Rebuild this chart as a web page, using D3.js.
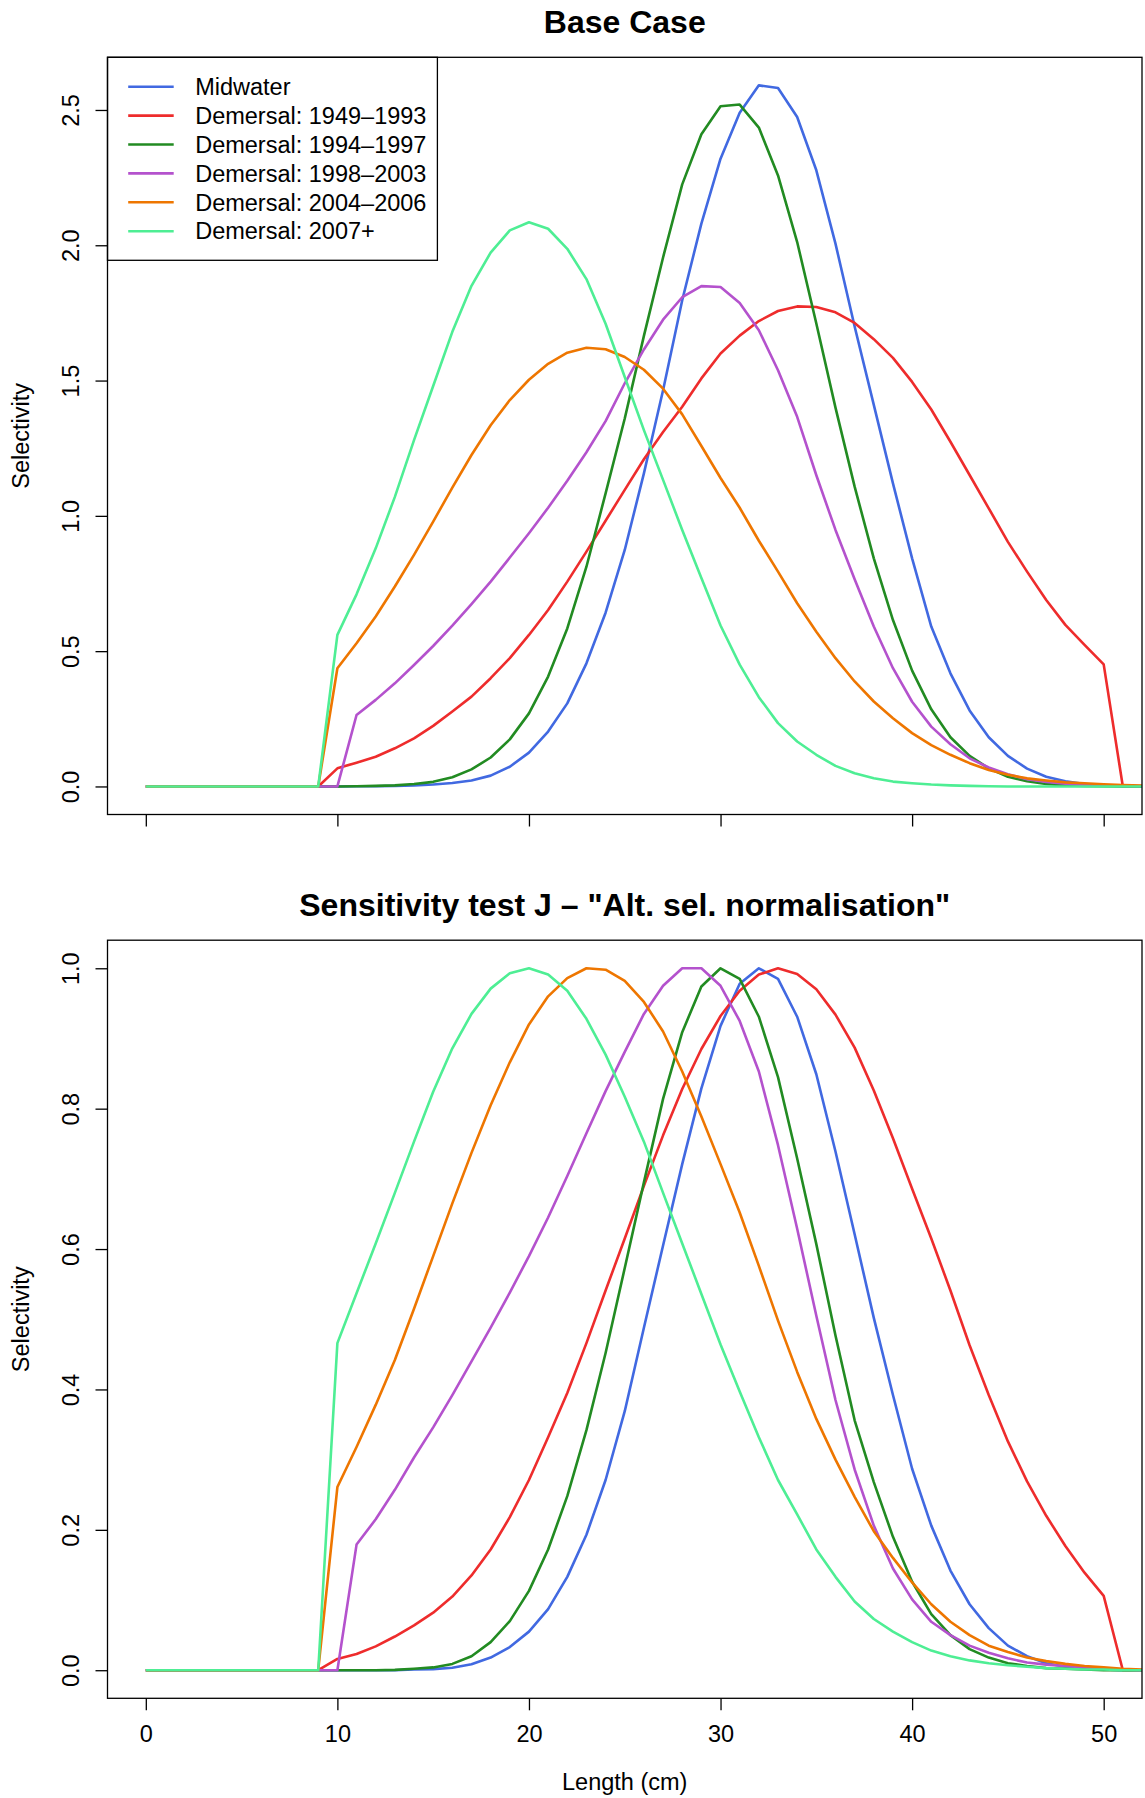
<!DOCTYPE html>
<meta charset="utf-8">
<style>
body { margin: 0; background: white; }
text { font-family: "Liberation Sans", Arial, Helvetica, sans-serif; fill: black; }
.sel { fill: none; stroke-width: 2.6px; stroke-linejoin: round; }
.box { fill: none; stroke: black; stroke-width: 1.3px; }
.tick line { stroke: black; stroke-width: 1.3px; }
</style>
<body>
<script src="https://d3js.org/d3.v7.min.js"></script>
<script>
var width = 1145,
    height = 1798;

// lengths (cm) at which selectivity is given
var lengths = [0,1,2,3,4,5,6,7,8,9,10,11,12,13,14,15,16,17,18,19,20,21,22,23,24,25,
  26,27,28,29,30,31,32,33,34,35,36,37,38,39,40,41,42,43,44,45,46,47,48,49,50,51,52];

var seriesNames = ["Midwater", "Demersal: 1949\u20131993", "Demersal: 1994\u20131997",
  "Demersal: 1998\u20132003", "Demersal: 2004\u20132006", "Demersal: 2007+"];
var colours = ["#4169e1", "#ee2c2c", "#228b22", "#b452cd", "#ee7600", "#4eee94"];

// Base case
var baseMidwater = [0,0,0,0,0,0,0,0,0,0, 0,0.0005,0.001,0.002,0.004,0.007,0.013,0.022,0.04,0.073,
  0.125,0.203,0.307,0.455,0.642,0.874,1.157,1.464,1.797,2.08, 2.32,2.49,2.591,2.581,2.474,2.277,2.006,1.70,1.41,1.12,
  0.843,0.591,0.418,0.281,0.182,0.113,0.066,0.036,0.019,0.009, 0.004,0.002,0.001];
var baseDem4993 = [0,0,0,0,0,0,0,0,0,0, 0.067,0.088,0.110,0.141,0.178,0.224,0.277,0.332,0.400,0.474,
  0.560,0.652,0.757,0.868,0.982,1.096,1.209,1.31,1.403,1.508, 1.60,1.666,1.72,1.757,1.774,1.772,1.752,1.713,1.653,1.584,
  1.495,1.393,1.274,1.151,1.028,0.904,0.794,0.689,0.597,0.523, 0.451,0,0];
var baseDem9497 = [0,0,0,0,0,0,0,0,0,0, 0,0.001,0.002,0.004,0.009,0.017,0.034,0.063,0.107,0.174,
  0.270,0.406,0.584,0.812,1.083,1.36,1.665,1.955,2.225,2.41, 2.514,2.52,2.435,2.258,2.012,1.711,1.40,1.108,0.843,0.615,
  0.428,0.285,0.182,0.113,0.067,0.036,0.019,0.009,0.004,0.002, 0.001,0,0];
var baseDem9803 = [0,0,0,0,0,0,0,0,0,0, 0,0.264,0.320,0.381,0.449,0.519,0.594,0.674,0.757,0.846,
  0.936,1.03,1.13,1.235,1.35,1.49,1.615,1.725,1.808,1.849, 1.846,1.787,1.686,1.538,1.366,1.15,0.948,0.766,0.591,0.437,
  0.313,0.221,0.156,0.104,0.070,0.045,0.027,0.017,0.010,0.006, 0.004,0.002,0.001];
var baseDem0406 = [0,0,0,0,0,0,0,0,0,0, 0.437,0.529,0.628,0.739,0.856,0.979,1.104,1.225,1.335,1.428,
  1.503,1.562,1.603,1.621,1.616,1.587,1.540,1.470,1.375,1.258, 1.14,1.03,0.908,0.794,0.677,0.572,0.474,0.388,0.314,0.252,
  0.197,0.153,0.117,0.086,0.061,0.043,0.030,0.022,0.015,0.012, 0.008,0.005,0.003];
var baseDem07 = [0,0,0,0,0,0,0,0,0,0, 0.56,0.71,0.88,1.07,1.28,1.48,1.68,1.85,1.973,2.055,
  2.085,2.061,1.987,1.875,1.71,1.513,1.317,1.133,0.948,0.77, 0.595,0.45,0.33,0.234,0.166,0.117,0.076,0.049,0.030,0.018,
  0.012,0.007,0.004,0.002,0.001,0,0,0,0,0, 0,0,0];

// Sensitivity test J
var sensMidwater = [0,0,0,0,0,0,0,0,0,0, 0,0,0,0,0.001,0.0015,0.0035,0.0085,0.018,0.033,
  0.055,0.087,0.133,0.193,0.271,0.369,0.488,0.605,0.721,0.829, 0.918,0.978,1.0,0.985,0.931,0.849,0.739,0.621,0.502,0.392,
  0.287,0.206,0.142,0.094,0.060,0.035,0.020,0.010,0.005,0.002, 0.001,0,0];
var sensDem4993 = [0,0,0,0,0,0,0,0,0,0, 0.016,0.023,0.034,0.048,0.064,0.082,0.105,0.135,0.172,0.218,
  0.271,0.332,0.395,0.466,0.541,0.615,0.69,0.762,0.828,0.885, 0.932,0.968,0.991,1.0,0.992,0.970,0.934,0.887,0.826,0.758,
  0.686,0.615,0.541,0.463,0.392,0.326,0.269,0.22,0.177,0.139, 0.106,0,0];
var sensDem9497 = [0,0,0,0,0,0,0,0,0,0, 0,0,0,0.0005,0.002,0.004,0.009,0.02,0.04,0.07,
  0.113,0.172,0.248,0.342,0.452,0.573,0.695,0.814,0.909,0.974, 1.0,0.985,0.931,0.845,0.729,0.607,0.477,0.356,0.268,0.190,
  0.126,0.080,0.050,0.030,0.018,0.010,0.006,0.003,0.002,0.001, 0,0,0];
var sensDem9803 = [0,0,0,0,0,0,0,0,0,0, 0,0.179,0.215,0.257,0.303,0.346,0.392,0.44,0.488,0.538,
  0.59,0.645,0.704,0.765,0.825,0.881,0.935,0.975,1.0,1.0, 0.975,0.925,0.853,0.748,0.629,0.505,0.385,0.286,0.206,0.145,
  0.101,0.069,0.050,0.035,0.025,0.017,0.011,0.008,0.006,0.004, 0.002,0.001,0];
var sensDem0406 = [0,0,0,0,0,0,0,0,0,0, 0.261,0.318,0.378,0.442,0.515,0.59,0.665,0.737,0.805,0.866,
  0.920,0.96,0.986,1.0,0.998,0.982,0.952,0.91,0.853,0.789, 0.721,0.652,0.576,0.498,0.425,0.358,0.30,0.247,0.198,0.160,
  0.125,0.094,0.069,0.050,0.035,0.026,0.018,0.013,0.009,0.006, 0.004,0.002,0.001];
var sensDem07 = [0,0,0,0,0,0,0,0,0,0, 0.466,0.537,0.608,0.680,0.753,0.824,0.886,0.935,0.971,0.993,
  1.0,0.991,0.968,0.928,0.877,0.817,0.753,0.68,0.608,0.536, 0.464,0.397,0.332,0.271,0.222,0.172,0.133,0.098,0.073,0.055,
  0.040,0.028,0.020,0.014,0.010,0.007,0.005,0.003,0.002,0.001, 0.001,0,0];

var xTicks = [0, 10, 20, 30, 40, 50];
var baseTicks = [0, 0.5, 1, 1.5, 2, 2.5];
var sensTicks = [0, 0.2, 0.4, 0.6, 0.8, 1];

var svg = d3.select("body").append("svg")
    .attr("width", width)
    .attr("height", height);

svg.append("rect").attr("width", width).attr("height", height).attr("fill", "white");

var left = 107.5, right = 1142;
var fontSize = 23.5,
    titleSize = 32;

// x limits 0-50 with R's 4% padding
var x = d3.scaleLinear().domain([-2, 52]).range([left, right]);

function drawPanel(id, series, top, bottom, title, titleY, yTicks, showXLabels) {
  var ymax = d3.max(series, function(s) { return d3.max(s); });
  var y = d3.scaleLinear()
      .domain([-0.04 * ymax, 1.04 * ymax])
      .range([bottom, top]);

  var g = svg.append("g");

  g.append("clipPath").attr("id", id)
    .append("rect")
      .attr("x", left).attr("y", top)
      .attr("width", right - left).attr("height", bottom - top);

  var line = d3.line()
      .x(function(d, i) { return x(lengths[i]); })
      .y(function(d) { return y(d); });

  g.append("g").attr("clip-path", "url(#" + id + ")")
    .selectAll("path")
    .data(series)
    .enter().append("path")
      .attr("class", "sel")
      .attr("stroke", function(d, i) { return colours[i]; })
      .attr("d", line);

  // y axis, labels turned like R does
  var ya = g.append("g")
      .attr("transform", "translate(" + left + ",0)")
      .call(d3.axisLeft(y).tickValues(yTicks).tickSize(12).tickFormat(d3.format(".1f")));
  ya.select(".domain").remove();
  ya.selectAll(".tick text")
      .attr("x", 0).attr("dy", null)
      .attr("text-anchor", "middle")
      .attr("transform", "translate(-28.5,0) rotate(-90)")
      .style("font-size", fontSize + "px");

  var xa = g.append("g")
      .attr("transform", "translate(0," + bottom + ")")
      .call(d3.axisBottom(x).tickValues(xTicks).tickSize(12)
        .tickFormat(showXLabels ? d3.format("d") : function() { return ""; }));
  xa.select(".domain").remove();
  xa.selectAll(".tick text")
      .attr("y", 44).attr("dy", null)
      .style("font-size", fontSize + "px");

  g.append("rect")
      .attr("class", "box")
      .attr("x", left).attr("y", top)
      .attr("width", right - left).attr("height", bottom - top);

  g.append("text")
      .attr("x", (left + right) / 2)
      .attr("y", titleY)
      .attr("text-anchor", "middle")
      .style("font-weight", "bold")
      .style("font-size", titleSize + "px")
      .text(title);

  g.append("text")
      .attr("transform", "translate(29," + ((top + bottom) / 2) + ") rotate(-90)")
      .attr("text-anchor", "middle")
      .style("font-size", fontSize + "px")
      .text("Selectivity");

  return g;
}

var topPanel = drawPanel("clipA",
  [baseMidwater, baseDem4993, baseDem9497, baseDem9803, baseDem0406, baseDem07],
  57.3, 814.5, "Base Case", 32.5, baseTicks, false);

drawPanel("clipB",
  [sensMidwater, sensDem4993, sensDem9497, sensDem9803, sensDem0406, sensDem07],
  940.2, 1698.3, "Sensitivity test J \u2013 \"Alt. sel. normalisation\"", 916, sensTicks, true);

svg.append("text")
    .attr("x", (left + right) / 2)
    .attr("y", 1790)
    .attr("text-anchor", "middle")
    .style("font-size", fontSize + "px")
    .text("Length (cm)");

// legend
var legend = topPanel.append("g");
legend.append("rect")
    .attr("class", "box")
    .attr("x", left).attr("y", 57.3)
    .attr("width", 437.4 - left).attr("height", 260.3 - 57.3)
    .attr("fill", "white");

var rows = legend.selectAll(".row")
    .data(seriesNames)
    .enter().append("g")
      .attr("transform", function(d, i) { return "translate(0," + (86.7 + i * 28.9) + ")"; });

rows.append("line")
    .attr("x1", 128.2).attr("x2", 173.7)
    .attr("stroke", function(d, i) { return colours[i]; })
    .attr("stroke-width", 2.6);

rows.append("text")
    .attr("x", 195.2)
    .attr("dy", "0.35em")
    .style("font-size", fontSize + "px")
    .text(function(d) { return d; });
</script>
</body>
</html>
